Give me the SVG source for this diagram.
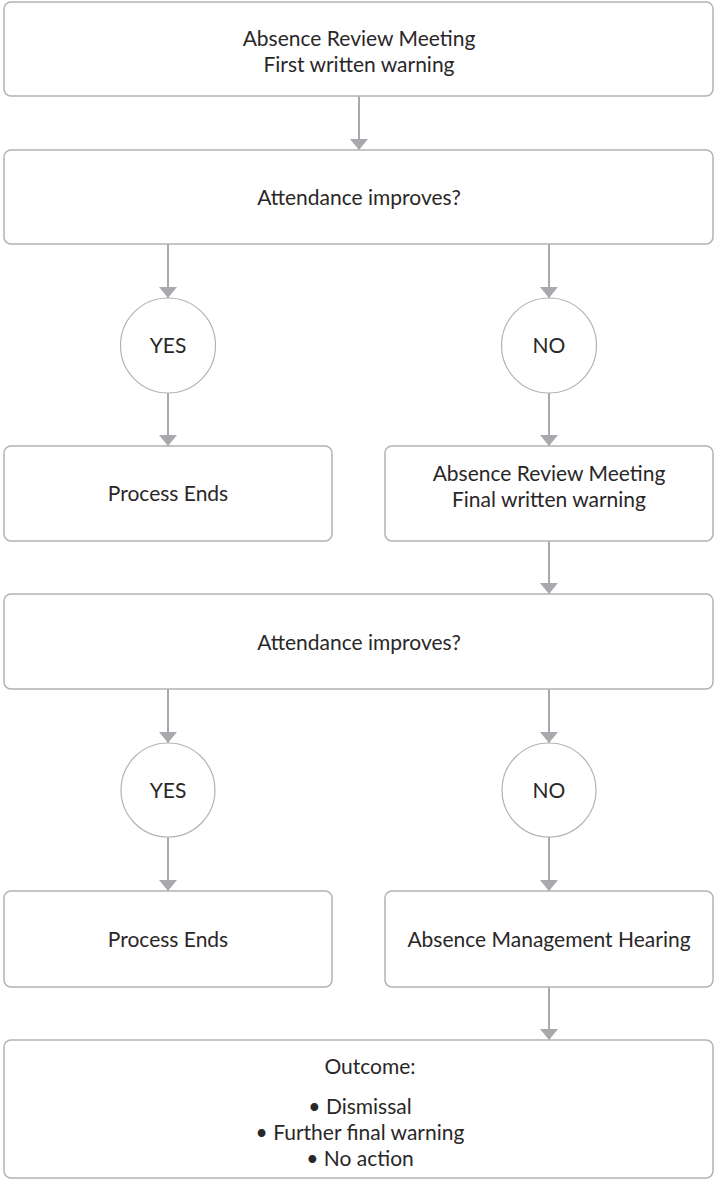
<svg xmlns="http://www.w3.org/2000/svg" width="715" height="1180" viewBox="0 0 715 1180">
<style>
.box{fill:#ffffff;stroke:#b3b3b3;stroke-width:1.5}
.circ{fill:#ffffff;stroke:#b3b3b3;stroke-width:1.2}
.t{font-family:"Lato","Liberation Sans",sans-serif;font-size:21px;fill:#2a2728;text-anchor:middle}
.c{stroke:#a7a9ac;stroke-width:2;fill:none}
</style>
<defs>
<marker id="ah" markerUnits="userSpaceOnUse" markerWidth="18" markerHeight="11" refX="9" refY="11" orient="0" viewBox="0 0 18 11">
<polygon points="0,0 18,0 9,11" fill="#a7a9ac"/>
</marker>
</defs>
<rect width="715" height="1180" fill="#ffffff"/>
<g id="connectors">
<line class="c" x1="359" y1="96" x2="359" y2="150" marker-end="url(#ah)"/>
<line class="c" x1="168" y1="244" x2="168" y2="298" marker-end="url(#ah)"/>
<line class="c" x1="549" y1="244" x2="549" y2="298" marker-end="url(#ah)"/>
<line class="c" x1="168" y1="393" x2="168" y2="446" marker-end="url(#ah)"/>
<line class="c" x1="549" y1="393" x2="549" y2="446" marker-end="url(#ah)"/>
<line class="c" x1="549" y1="541" x2="549" y2="594" marker-end="url(#ah)"/>
<line class="c" x1="168" y1="689" x2="168" y2="743" marker-end="url(#ah)"/>
<line class="c" x1="549" y1="689" x2="549" y2="743" marker-end="url(#ah)"/>
<line class="c" x1="168" y1="837" x2="168" y2="891" marker-end="url(#ah)"/>
<line class="c" x1="549" y1="837" x2="549" y2="891" marker-end="url(#ah)"/>
<line class="c" x1="549" y1="987" x2="549" y2="1040" marker-end="url(#ah)"/>
</g>
<g id="n1">
<rect class="box" x="4" y="2" width="709" height="94" rx="7"/>
<text class="t" x="359" y="46">Absence Review Meeting</text>
<text class="t" x="359" y="72">First written warning</text>
</g>
<g id="n2">
<rect class="box" x="4" y="150" width="709" height="94" rx="7"/>
<text class="t" x="359" y="205">Attendance improves?</text>
</g>
<g id="n3">
<circle class="circ" cx="168" cy="345.5" r="47.5"/>
<text class="t" x="168" y="353">YES</text>
</g>
<g id="n4">
<circle class="circ" cx="549" cy="345.5" r="47.5"/>
<text class="t" x="549" y="353">NO</text>
</g>
<g id="n5">
<rect class="box" x="4" y="446" width="328" height="95" rx="7"/>
<text class="t" x="168" y="501">Process Ends</text>
</g>
<g id="n6">
<rect class="box" x="385" y="446" width="328" height="95" rx="7"/>
<text class="t" x="549" y="481">Absence Review Meeting</text>
<text class="t" x="549" y="507">Final written warning</text>
</g>
<g id="n7">
<rect class="box" x="4" y="594" width="709" height="95" rx="7"/>
<text class="t" x="359" y="650">Attendance improves?</text>
</g>
<g id="n8">
<circle class="circ" cx="168" cy="790" r="47"/>
<text class="t" x="168" y="798">YES</text>
</g>
<g id="n9">
<circle class="circ" cx="549" cy="790" r="47"/>
<text class="t" x="549" y="798">NO</text>
</g>
<g id="n10">
<rect class="box" x="4" y="891" width="328" height="96" rx="7"/>
<text class="t" x="168" y="947">Process Ends</text>
</g>
<g id="n11">
<rect class="box" x="385" y="891" width="328" height="96" rx="7"/>
<text class="t" x="549" y="947">Absence Management Hearing</text>
</g>
<g id="n12">
<rect class="box" x="4" y="1040" width="709" height="138" rx="7"/>
<text class="t" x="370" y="1074">Outcome:</text>
<text class="t" x="360" y="1114">• Dismissal</text>
<text class="t" x="360" y="1140">• Further final warning</text>
<text class="t" x="360" y="1166">• No action</text>
</g>
</svg>
